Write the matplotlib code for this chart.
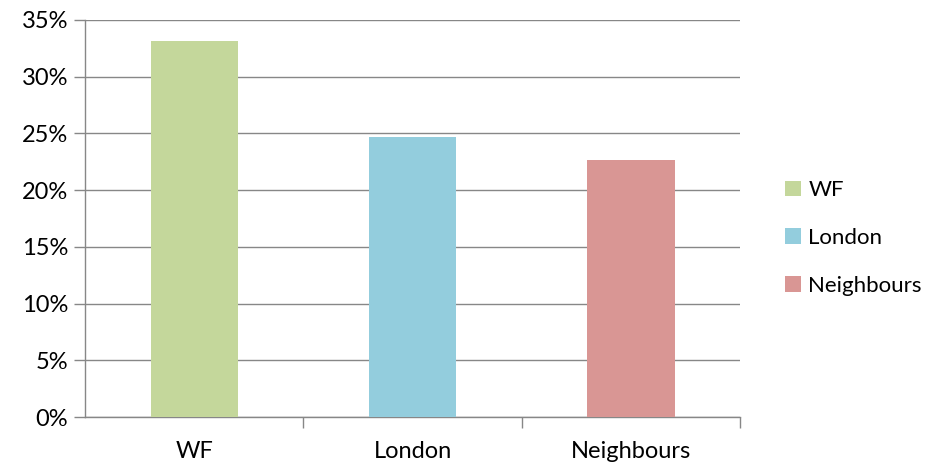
import matplotlib
matplotlib.use('Agg')
import matplotlib.pyplot as plt
import matplotlib.ticker as ticker
import numpy as np
from matplotlib.patches import Patch

# data
categories = ['WF', 'London', 'Neighbours']
values = [0.3316, 0.247, 0.2266]
colors = ['#C4D79B', '#93CDDD', '#D99694']

plt.rcParams['font.family'] = ['Lato', 'DejaVu Sans']

fig = plt.figure(figsize=(9.32, 4.65), dpi=100)
ax = fig.add_axes([85 / 932, 48 / 465, 655 / 932, 397 / 465])

x = np.arange(len(categories))
ax.bar(x, values, 0.4, color=colors, zorder=3)

ax.set_xlim(-0.5, 2.5)
ax.set_ylim(0, 0.35)
ax.yaxis.set_major_locator(ticker.MultipleLocator(0.05))
ax.yaxis.set_major_formatter(ticker.FuncFormatter(lambda v, p: f'{v * 100:.0f}%'))
ax.grid(axis='y', color='#878787', linewidth=1.0, zorder=0)

ax.set_xticks(x)
ax.set_xticklabels(categories)
ax.xaxis.set_minor_locator(ticker.FixedLocator([0.5, 1.5, 2.5]))
ax.tick_params(axis='x', which='major', length=0, pad=17, labelsize=17)
ax.tick_params(axis='x', which='minor', length=8, color='#878787', width=1)
ax.tick_params(axis='y', length=8, color='#878787', width=1, labelsize=17, pad=4)

for s in ('top', 'right'):
    ax.spines[s].set_visible(False)
for s in ('left', 'bottom'):
    ax.spines[s].set_color('#878787')
    ax.spines[s].set_linewidth(1.0)

handles = [Patch(facecolor=c, label=l) for c, l in zip(colors, categories)]
fig.legend(handles=handles, loc='center left', bbox_to_anchor=(765 / 932, 1 - 238 / 465),
           frameon=False, fontsize=16, handlelength=0.7, handleheight=0.7,
           handletextpad=0.35, labelspacing=1.25)

fig.savefig('out.png', dpi=100, facecolor='white')
